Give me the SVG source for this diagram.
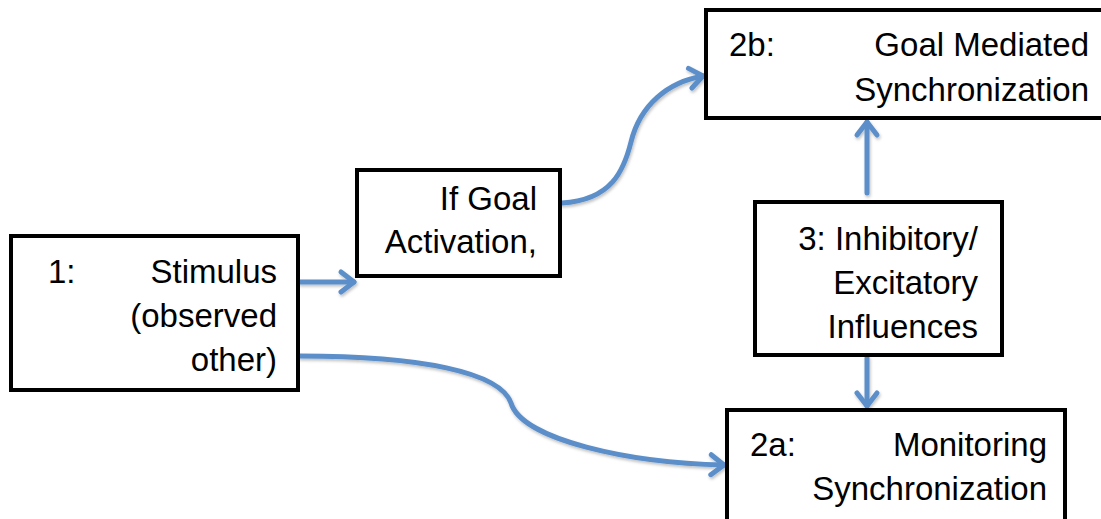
<svg xmlns="http://www.w3.org/2000/svg" width="1101" height="519" viewBox="0 0 1101 519">
  <style>
    .box { fill: #ffffff; stroke: #000000; stroke-width: 4; }
    .lbl { font-family: "Liberation Sans", Arial, sans-serif; font-size: 33px; fill: #000000; }
    .r { text-anchor: end; }
    .link { fill: none; stroke: #5b8fca; stroke-width: 5; stroke-linecap: round; filter: url(#shade); }
  </style>
  <defs>
    <filter id="shade" filterUnits="userSpaceOnUse" x="0" y="0" width="1101" height="519">
      <feDropShadow dx="1" dy="2" stdDeviation="1.5" flood-color="#000000" flood-opacity="0.25"/>
    </filter>
    <marker id="head" markerUnits="userSpaceOnUse" viewBox="-18 -14 22 28" refX="0" refY="0" markerWidth="22" markerHeight="28" orient="auto">
      <path d="M-13,-10 L0,0 L-13,10" fill="none" stroke="#5b8fca" stroke-width="5" stroke-linecap="round" stroke-linejoin="round"/>
    </marker>
  </defs>

  <!-- connectors -->
  <g id="connectors">
    <path class="link" d="M300,282 L354,282" marker-end="url(#head)"/>
    <path class="link" d="M562,203 C612,200 624,170 631,142 C640,105 668,82 703,76" marker-end="url(#head)"/>
    <path class="link" d="M867,193 L867,122" marker-end="url(#head)"/>
    <path class="link" d="M867,358 L867,406" marker-end="url(#head)"/>
    <path class="link" d="M300,356 C420,356 500,372 511,403 C522,440 630,463 724,465" marker-end="url(#head)"/>
  </g>

  <!-- 1: stimulus -->
  <g id="node-stimulus">
    <rect class="box" x="11" y="236" width="287" height="154"/>
    <text class="lbl" x="48" y="283">1:</text>
    <text class="lbl r" x="277" y="283">Stimulus</text>
    <text class="lbl r" x="277" y="327">(observed</text>
    <text class="lbl r" x="277" y="371">other)</text>
  </g>

  <!-- goal activation -->
  <g id="node-goal-activation">
    <rect class="box" x="357" y="170" width="203" height="106"/>
    <text class="lbl r" x="537" y="210">If Goal</text>
    <text class="lbl r" x="537" y="253">Activation,</text>
  </g>

  <!-- 2b: goal mediated synchronization -->
  <g id="node-goal-mediated">
    <rect class="box" x="706" y="10" width="400" height="108"/>
    <text class="lbl" x="729" y="56">2b:</text>
    <text class="lbl r" x="1089" y="56">Goal Mediated</text>
    <text class="lbl r" x="1089" y="101">Synchronization</text>
  </g>

  <!-- 3: inhibitory / excitatory influences -->
  <g id="node-influences">
    <rect class="box" x="755" y="202" width="247" height="153"/>
    <text class="lbl r" x="978" y="250">3: Inhibitory/</text>
    <text class="lbl r" x="978" y="294">Excitatory</text>
    <text class="lbl r" x="978" y="338">Influences</text>
  </g>

  <!-- 2a: monitoring synchronization -->
  <g id="node-monitoring">
    <rect class="box" x="727" y="410" width="338" height="120"/>
    <text class="lbl" x="750" y="456">2a:</text>
    <text class="lbl r" x="1047" y="456">Monitoring</text>
    <text class="lbl r" x="1047" y="500">Synchronization</text>
  </g>
</svg>
